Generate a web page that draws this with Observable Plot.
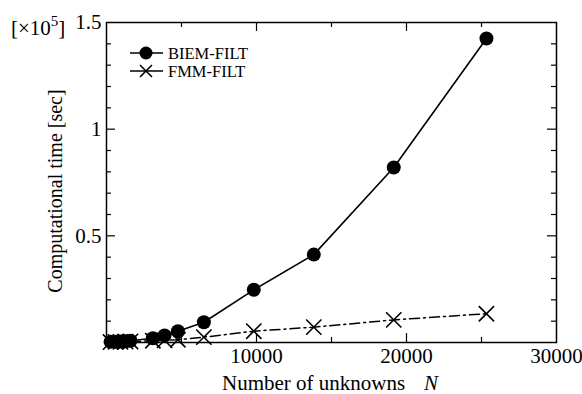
<!DOCTYPE html>
<html>
<head>
<meta charset="utf-8">
<script src="https://cdn.jsdelivr.net/npm/d3@7"></script>
<script src="https://cdn.jsdelivr.net/npm/@observablehq/plot@0.6"></script>
<style>
  html, body { margin: 0; padding: 0; background: #fff; }
  #chart { width: 582px; height: 394px; }
  #chart svg, #chart svg text { font-family: "Liberation Serif", "DejaVu Serif", "Times New Roman", serif !important; }
</style>
</head>
<body>
<div id="chart"></div>
<script>
// ---- data (time in units of 10^5 s) ----
const nBIEM = [270, 600, 930, 1270, 1600, 3090, 3870, 4760, 6490, 9820, 13820, 19150, 25330];
const tBIEM = [0.003, 0.004, 0.005, 0.006, 0.008, 0.020, 0.033, 0.053, 0.095, 0.247, 0.412, 0.820, 1.425];
const nFMM  = [270, 600, 930, 1270, 1600, 3090, 3870, 4760, 6490, 9820, 13820, 19150, 25330];
const tFMM  = [0.002, 0.003, 0.003, 0.004, 0.005, 0.008, 0.010, 0.013, 0.025, 0.053, 0.072, 0.106, 0.135];

const xTickLabels = [10000, 20000, 30000];
const xMinor = [5000, 15000, 25000];
const xMajor = [10000, 20000];
const yTickLabels = [0.5, 1, 1.5];
const yMajor = [0.5, 1.0];
const yMinor = [0.1, 0.2, 0.3, 0.4, 0.6, 0.7, 0.8, 0.9, 1.1, 1.2, 1.3, 1.4];

const seriesNames = ["BIEM-FILT", "FMM-FILT"];

const biem = nBIEM.map((n, i) => ({n, t: tBIEM[i]}));
const fmm = nFMM.map((n, i) => ({n, t: tFMM[i]}));

const W = 582, H = 394;
const mL = 106, mR = 26, mT = 22, mB = 52;
const plotW = W - mL - mR, plotH = H - mT - mB;
const font = "'Liberation Serif', 'DejaVu Serif', serif";

const chart = Plot.plot({
  width: W,
  height: H,
  marginLeft: mL,
  marginRight: mR,
  marginTop: mT,
  marginBottom: mB,
  style: {fontFamily: font, background: "#fff", color: "#000"},
  x: {domain: [0, 30000]},
  y: {domain: [0, 1.5]},
  marks: [
    // ticks (inward)
    Plot.tickX(xMajor, {x: d => d, insetTop: plotH - 9, strokeWidth: 1.2}),
    Plot.tickX(xMinor, {x: d => d, insetTop: plotH - 5, strokeWidth: 1.2}),
    Plot.tickX(xMajor, {x: d => d, insetBottom: plotH - 9, strokeWidth: 1.2}),
    Plot.tickX(xMinor, {x: d => d, insetBottom: plotH - 5, strokeWidth: 1.2}),
    Plot.tickY(yMajor, {y: d => d, insetRight: plotW - 9, strokeWidth: 1.2}),
    Plot.tickY(yMinor, {y: d => d, insetRight: plotW - 5, strokeWidth: 1.2}),
    Plot.tickY(yMajor, {y: d => d, insetLeft: plotW - 9, strokeWidth: 1.2}),
    Plot.tickY(yMinor, {y: d => d, insetLeft: plotW - 5, strokeWidth: 1.2}),
    Plot.axisX(xTickLabels, {tickSize: 0, tickPadding: 6, fontSize: 21, tickFormat: d => String(d), label: null, fill: "#000"}),
    Plot.axisY(yTickLabels, {tickSize: 0, tickPadding: 5, fontSize: 21, tickFormat: d => String(d), label: null, fill: "#000"}),
    Plot.frame({stroke: "#000", strokeWidth: 1.5}),
    // series
    Plot.line(fmm, {x: "n", y: "t", stroke: "#000", strokeWidth: 1.5, strokeDasharray: "10,4,2,4"}),
    Plot.dot(fmm, {x: "n", y: "t", symbol: "times", r: 7, stroke: "#000", strokeWidth: 1.6}),
    Plot.line(biem, {x: "n", y: "t", stroke: "#000", strokeWidth: 1.6}),
    Plot.dot(biem, {x: "n", y: "t", symbol: "circle", r: 7, fill: "#000", stroke: "none"})
  ]
});

document.getElementById("chart").appendChild(chart);

// annotations
const svg = d3.select(chart);
const g = svg.append("g").style("font-family", font).attr("fill", "#000").attr("text-anchor", "start");

// axis labels
g.append("text").attr("x", 222).attr("y", 390).attr("font-size", 21).text("Number of unknowns");
g.append("text").attr("x", 424).attr("y", 390).attr("font-size", 21).attr("font-style", "italic").text("N");

g.append("text")
  .attr("transform", "translate(62,191) rotate(-90)")
  .attr("text-anchor", "middle")
  .attr("font-size", 20)
  .text("Computational time [sec]");

// scale multiplier
const m = g.append("text").attr("x", 11).attr("y", 35).attr("font-size", 21);
m.append("tspan").text("[×10");
m.append("tspan").attr("font-size", 15).attr("dy", -9).text("5");
m.append("tspan").attr("dy", 9).text("]");

// legend
const leg = g.append("g");
[[53, true], [71, false]].forEach(([y, circ], i) => {
  leg.append("line").attr("x1", 130).attr("x2", 163).attr("y1", y).attr("y2", y)
    .attr("stroke", "#000").attr("stroke-width", 1.6);
  if (circ) {
    leg.append("circle").attr("cx", 146).attr("cy", y).attr("r", 6.5).attr("fill", "#000");
  } else {
    leg.append("path").attr("d", `M140,${y-6}L152,${y+6}M140,${y+6}L152,${y-6}`)
      .attr("stroke", "#000").attr("stroke-width", 1.6).attr("fill", "none");
  }
  leg.append("text").attr("x", 168).attr("y", y + 5.5).attr("font-size", 16.5).text(seriesNames[i]);
});
</script>
</body>
</html>
